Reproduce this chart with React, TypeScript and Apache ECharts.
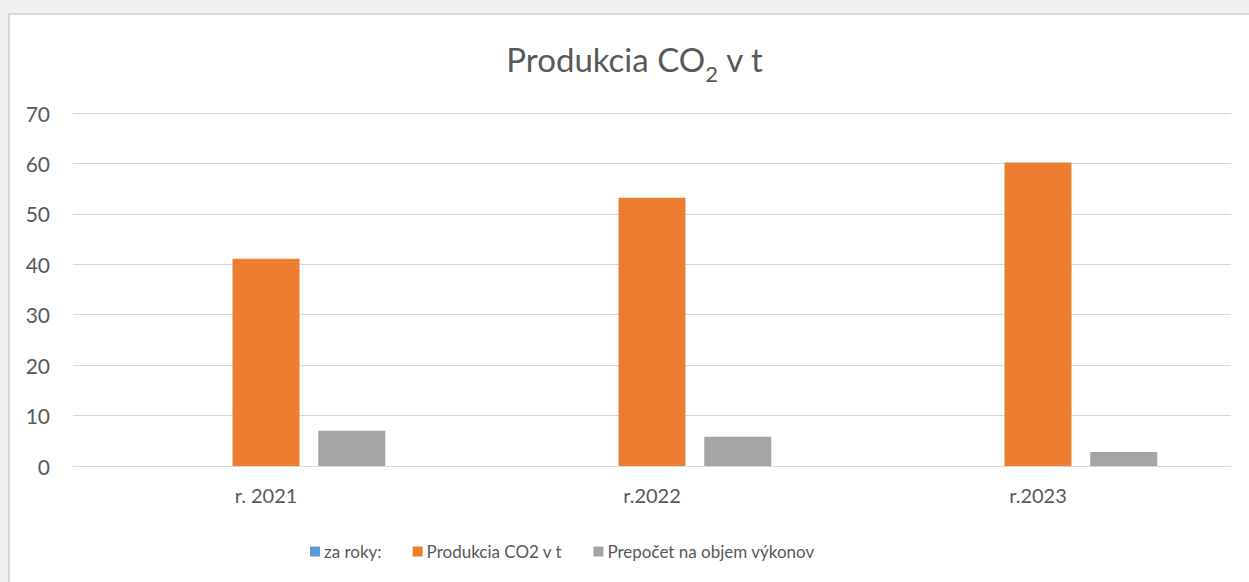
import React, { useEffect, useRef } from "react";
import * as echarts from "echarts";

const categories = ["r. 2021", "r.2022", "r.2023"];
const seriesNames = ["za roky:", "Produkcia CO2 v t", "Prepočet na objem výkonov"];
const zaRoky = [0, 0, 0];
const produkcia = [41.1, 53.2, 60.2];
const prepocet = [7.0, 5.8, 2.8];
const yTicks = { min: 0, max: 70, interval: 10 };
const colors = ["#5b9bd5", "#ed7d31", "#a5a5a5"];

export default function App() {
  const ref = useRef<HTMLDivElement>(null);
  useEffect(() => {
    const chart = echarts.init(ref.current!, undefined, { renderer: "svg" });
    const font = "Lato, 'Open Sans', sans-serif";
    chart.setOption({
      animation: false,
      backgroundColor: "#f0f0f0",
      textStyle: { fontFamily: font },
      graphic: [
        {
          type: "rect",
          z: -10,
          silent: true,
          shape: { x: 9, y: 14, width: 1260, height: 600 },
          style: { fill: "#ffffff", stroke: "#d9d9d9", lineWidth: 2 },
        },
      ],
      title: {
        text: "{m|Produkcia CO}{sub|2}{m| v t}",
        left: 630,
        textAlign: "center",
        top: 37,
        textStyle: {
          fontFamily: font,
          fontSize: 33,
          fontWeight: "normal",
          color: "#595959",
          rich: {
            m: {
              fontFamily: font,
              fontSize: 33,
              lineHeight: 33,
              color: "#595959",
              verticalAlign: "top",
            },
            sub: {
              fontFamily: font,
              fontSize: 22,
              lineHeight: 22,
              color: "#595959",
              verticalAlign: "top",
              padding: [20, 0, 0, 0],
            },
          },
        },
      },
      legend: {
        top: 538,
        left: 305,
        itemWidth: 10,
        itemHeight: 10,
        itemGap: 31,
        icon: "rect",
        textStyle: { fontFamily: font, fontSize: 17, color: "#595959", padding: [0, 0, 0, -1] },
        data: seriesNames,
      },
      grid: { left: 73, right: 18, top: 113, bottom: 116, containLabel: false },
      xAxis: {
        type: "category",
        data: categories,
        axisLine: { lineStyle: { color: "#d9d9d9", width: 1 } },
        axisTick: { show: false },
        axisLabel: { color: "#595959", fontSize: 20, margin: 19, fontFamily: font },
      },
      yAxis: {
        type: "value",
        min: yTicks.min,
        max: yTicks.max,
        interval: yTicks.interval,
        axisLine: { show: false },
        axisTick: { show: false },
        splitLine: { lineStyle: { color: "#d9d9d9", width: 1 } },
        axisLabel: { color: "#595959", fontSize: 21, margin: 23, fontFamily: font },
      },
      series: [
        { name: seriesNames[0], type: "bar", data: zaRoky, barWidth: 67, barGap: "28%", itemStyle: { color: colors[0] } },
        { name: seriesNames[1], type: "bar", data: produkcia, barWidth: 67, barGap: "28%", itemStyle: { color: colors[1] } },
        { name: seriesNames[2], type: "bar", data: prepocet, barWidth: 67, barGap: "28%", itemStyle: { color: colors[2] } },
      ],
    });
    return () => chart.dispose();
  }, []);
  return (
    <div
      ref={ref}
      style={{ position: "fixed", left: 0, top: 0, width: 1249, height: 582 }}
    />
  );
}
